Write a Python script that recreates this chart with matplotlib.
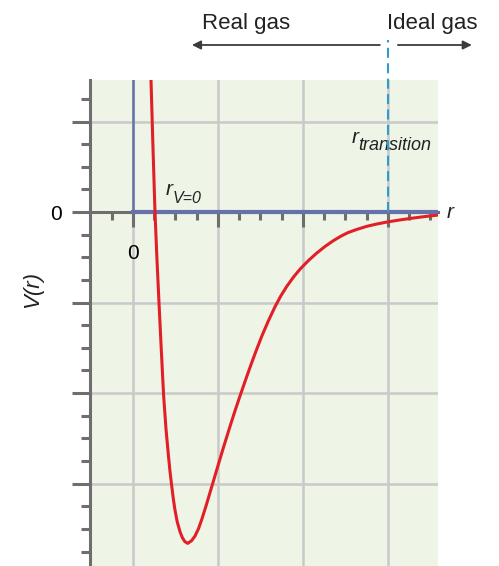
import matplotlib
matplotlib.use("Agg")
import matplotlib.pyplot as plt

plt.rcParams['font.family'] = ['Liberation Sans', 'DejaVu Sans']

# Curve data (r and V in grid units)
r_vals = [0.212, 0.235, 0.259, 0.282, 0.306, 0.333, 0.360, 0.388, 0.415, 0.435,
          0.455, 0.475, 0.494, 0.520, 0.553, 0.580, 0.610, 0.644, 0.690, 0.729,
          0.770, 0.808, 0.860, 0.906, 0.985, 1.060, 1.141, 1.200, 1.260, 1.330,
          1.396, 1.460, 1.514, 1.590, 1.670, 1.740, 1.810, 1.890, 1.965, 2.060,
          2.160, 2.260, 2.360, 2.450, 2.530, 2.640, 2.750, 2.870, 2.990, 3.140,
          3.290, 3.440, 3.590]
V_vals = [1.46, 0.72, 0.00, -0.52, -1.00, -1.52, -2.02, -2.39, -2.67, -2.86,
          -3.02, -3.17, -3.29, -3.42, -3.53, -3.595, -3.64, -3.66, -3.63, -3.58,
          -3.50, -3.40, -3.245, -3.10, -2.85, -2.615, -2.37, -2.198, -2.03, -1.841,
          -1.667, -1.506, -1.376, -1.209, -1.049, -0.926, -0.821, -0.717, -0.632, -0.540,
          -0.455, -0.380, -0.315, -0.265, -0.227, -0.190, -0.158, -0.132, -0.110, -0.087,
          -0.067, -0.049, -0.033]

x_major = [0, 1, 2, 3]
x_minor = [-0.25, 0.25, 0.5, 0.75, 1.25, 1.5, 1.75, 2.25, 2.5, 2.75, 3.25, 3.5]
y_major = [1, 0, -1, -2, -3]
y_minor = [1.25, 0.75, 0.5, 0.25, -0.25, -0.5, -0.75, -1.25, -1.5, -1.75,
           -2.25, -2.5, -2.75, -3.25, -3.5, -3.75]
x_ticklabels = ['0', '', '', '']
y_ticklabels = ['', '0', '', '', '']
r_transition = 3.0

xlim = (-0.506, 3.59)
ylim = (-3.91, 1.459)

fig = plt.figure(figsize=(4.99, 5.66), dpi=100)
ax = fig.add_axes([90/499, 0, 348/499, 486/566])
ax.set_facecolor('#eef5e7')
ax.set_xlim(*xlim)
ax.set_ylim(*ylim)
ax.set_axisbelow(True)

gray = '#6e6e6e'
for s in ['top', 'right']:
    ax.spines[s].set_visible(False)
ax.spines['left'].set_color(gray)
ax.spines['left'].set_linewidth(2.2)
ax.spines['bottom'].set_position(('data', 0))
ax.spines['bottom'].set_color(gray)
ax.spines['bottom'].set_linewidth(2.2)

ax.set_xticks(x_major)
ax.set_xticks(x_minor, minor=True)
ax.set_yticks(y_major)
ax.set_yticks(y_minor, minor=True)
ax.set_xticklabels(x_ticklabels, fontsize=15)
ax.set_yticklabels(y_ticklabels, fontsize=15)
ax.tick_params(axis='x', which='major', direction='out', length=11, width=2.2,
               color=gray, pad=12)
ax.tick_params(axis='x', which='minor', direction='out', length=6, width=2.2, color=gray)
ax.tick_params(axis='y', which='major', direction='out', length=13, width=2.2,
               color=gray, pad=7)
ax.tick_params(axis='y', which='minor', direction='out', length=6.5, width=2.2, color=gray)

ax.grid(True, which='major', color='#c9c9c9', linewidth=1.8)

# Blue coordinate axes
y0frac = (0 - ylim[0]) / (ylim[1] - ylim[0])
x0frac = (0 - xlim[0]) / (xlim[1] - xlim[0])
blue = '#6670aa'
ax.axvline(0, ymin=y0frac, ymax=1, color=blue, lw=1.8, zorder=3)
ax.axhline(0, xmin=x0frac, xmax=1, color=blue, lw=3.0, zorder=3)

# Potential curve
ax.plot(r_vals, V_vals, color='#e21f26', lw=2.2, zorder=4,
        solid_joinstyle='round', solid_capstyle='butt')

# Transition dashed line
top_frac = (566 - 40) / 486
ax.axvline(r_transition, ymin=y0frac, ymax=top_frac, color='#2e9ccc', lw=1.5,
           linestyle=(0, (4.8, 2.6)), clip_on=False, zorder=5)

# Arrows
trans = ax.get_xaxis_transform()
arrow_y = (566 - 45) / 486
ax.annotate('', xy=(0.694, arrow_y), xytext=(2.906, arrow_y), xycoords=trans,
            textcoords=trans, annotation_clip=False,
            arrowprops=dict(arrowstyle='-|>', color='#3c3c3c', lw=1.3,
                            mutation_scale=13, shrinkA=0, shrinkB=0))
ax.annotate('', xy=(3.988, arrow_y), xytext=(3.118, arrow_y), xycoords=trans,
            textcoords=trans, annotation_clip=False,
            arrowprops=dict(arrowstyle='-|>', color='#3c3c3c', lw=1.3,
                            mutation_scale=13, shrinkA=0, shrinkB=0))

text_y = (566 - 29.3) / 486
ax.text(1.335, text_y, 'Real gas', transform=trans, ha='center', va='baseline',
        fontsize=16, color='#222222')
ax.text(2.988, text_y, 'Ideal gas', transform=trans, ha='left', va='baseline',
        fontsize=16, color='#222222')

# Labels
ax.text(2.576, 0.759, 'r', fontsize=15, style='italic', ha='left', va='baseline',
        color='#222222')
ax.text(2.647, 0.685, 'transition', fontsize=13, style='italic', ha='left',
        va='baseline', color='#222222')
ax.text(0.388, 0.188, 'r', fontsize=15, style='italic', ha='left', va='baseline',
        color='#222222')
ax.text(0.47, 0.099, 'V=0', fontsize=11.5, style='italic', ha='left',
        va='baseline', color='#222222')
ax.text(3.694, -0.066, 'r', fontsize=15, style='italic', ha='left', va='baseline',
        color='#222222')

fig.text(33/499, 1 - 289/566, 'V(r)', rotation=90, fontsize=16, style='italic',
         ha='center', va='center', color='#222222')

fig.savefig('out.png', dpi=100)
